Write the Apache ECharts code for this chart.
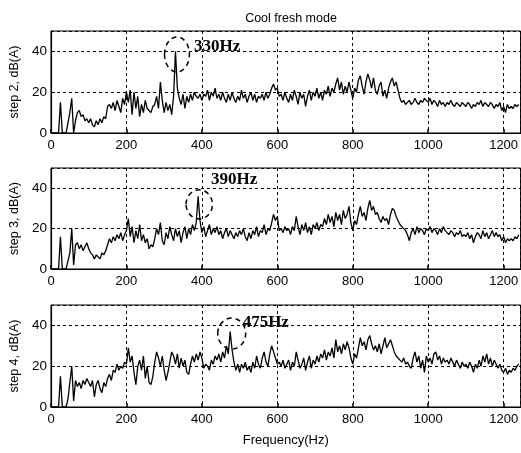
<!DOCTYPE html>
<html>
<head>
<meta charset="utf-8">
<script src="https://cdn.jsdelivr.net/npm/echarts@6/dist/echarts.min.js"></script>
<style>html,body{margin:0;padding:0;background:#fff;}#c{width:521px;height:453px;}</style>
</head>
<body>
<div id="c"></div>
<script>
// Frequency step of the sampled spectrum (Hz); values below are at 0,5,10,...,1240 Hz
const FREQ_STEP = 5;
const X_TICKS = [0, 200, 400, 600, 800, 1000, 1200];
const Y_TICKS = [0, 20, 40];
const PANEL_NAMES = ['step 2, dB(A)', 'step 3, dB(A)', 'step 4, dB(A)'];

const STEP2 = [
  0,0,0,0,0,15,0,0,0,0,10,17,0,6,10,11,8,9,6,7,
  5,7,4,3,6,4,7,5,8,7,13,14,12,15,11,16,13,10,17,14,
  20,15,21,9,20,12,18,8,14,10,16,12,11,10,13,14,18,12,25,16,
  10,15,11,14,9,18,40,22,17,14,19,12,18,15,19,16,20,18,17,19,
  16,19,18,21,16,20,18,22,17,19,16,20,17,15,19,16,20,17,15,18,
  16,21,17,19,15,18,20,16,19,15,18,17,19,16,20,17,19,22,24,21,
  22,18,19,16,20,17,15,19,16,21,18,14,20,17,19,13,18,21,16,20,
  18,22,17,20,16,21,19,23,18,22,20,24,27,21,25,19,23,20,25,21,
  17,22,20,26,28,23,19,25,29,26,22,27,21,19,23,25,18,21,17,22,
  25,27,23,25,21,17,15,16,14,15,16,14,15,17,15,14,16,15,17,16,
  15,17,14,16,15,13,16,14,15,13,15,14,16,14,13,15,14,13,15,14,
  13,15,14,12,14,13,15,14,16,13,15,14,13,15,14,12,14,13,15,11,
  13,10,14,12,13,12,14,13,14
];
const STEP3 = [
  0,0,0,0,0,16,0,0,0,0,8,20,2,12,13,10,12,9,11,13,
  10,8,7,5,7,6,5,8,7,9,12,15,13,16,14,17,15,18,14,17,
  19,25,16,21,13,19,15,22,14,17,13,15,10,12,11,15,20,17,23,14,
  12,18,15,21,17,14,20,16,19,13,18,21,15,20,17,22,19,23,36,24,
  18,21,16,19,22,17,20,18,21,17,19,15,18,20,16,19,17,15,18,16,
  19,17,20,16,14,18,15,19,17,21,16,19,18,22,17,20,19,23,27,24,
  26,19,20,18,21,19,20,17,21,19,26,21,17,22,19,23,18,21,17,22,
  20,23,19,22,21,25,22,27,23,26,21,28,24,27,22,29,25,27,31,23,
  19,24,22,27,31,26,28,24,30,34,29,31,27,28,25,23,26,24,25,22,
  27,30,29,26,24,22,21,20,19,17,14,18,20,17,21,18,20,19,17,20,
  19,21,18,20,19,17,20,18,21,19,18,17,19,18,16,18,17,19,16,17,
  16,18,15,17,13,16,18,17,15,19,16,18,15,17,19,16,18,16,17,14,
  16,13,15,14,15,14,16,15,17
];
const STEP4 = [
  0,0,0,0,0,15,0,0,0,4,12,20,3,13,10,12,9,13,11,14,
  12,10,13,5,11,13,9,7,12,10,14,16,13,18,17,21,18,20,19,22,
  21,29,22,25,17,11,20,23,18,25,14,20,12,11,15,22,27,24,20,25,
  18,13,17,22,27,25,21,26,19,24,20,23,17,16,21,25,22,26,23,27,
  24,19,21,20,18,23,21,25,23,26,22,27,24,30,26,37,28,22,18,21,
  17,21,19,22,18,20,17,22,19,25,21,19,24,27,22,20,26,30,27,24,
  21,22,20,23,19,21,23,18,22,20,27,23,19,21,24,18,22,25,19,23,
  21,25,22,26,24,28,23,27,25,29,24,33,27,30,26,31,28,32,29,24,
  21,26,24,29,34,30,32,28,33,35,31,28,30,27,31,26,30,34,29,31,
  33,30,27,25,24,23,22,24,21,22,20,19,24,27,22,25,19,23,17,25,
  22,24,21,26,27,23,25,21,24,22,23,21,24,22,20,23,21,19,22,20,
  21,19,22,20,17,21,19,23,20,25,22,26,21,24,20,23,21,19,21,18,
  17,19,16,18,17,19,18,20,21
];
// Annotated peaks: label, ellipse centre (Hz, dB), ellipse half-size (Hz, dB), label anchor (Hz, dB)
const PEAK_LABELS = ['330Hz', '390Hz', '475Hz'];
const ELLIPSE_CENTER = [[334, 38.5], [393, 32], [479, 36]];
const ELLIPSE_HALF = [[33, 8.6], [35, 7.2], [37, 7.6]];
const LABEL_ANCHOR = [[379, 42.4], [424, 44.3], [508, 41.5]];

const SERIES = [STEP2, STEP3, STEP4];

const chart = echarts.init(document.getElementById('c'), null, {renderer: 'canvas'});
const FONT = '"Liberation Sans", Arial, sans-serif';
const gridsPos = [
  {left: 49, top: 31, width: 473, height: 102},
  {left: 48, top: 168, width: 474, height: 101},
  {left: 47, top: 305, width: 475, height: 102}
];
const grids = gridsPos.map(p => Object.assign({show: true, borderColor: '#000', borderWidth: 1, backgroundColor: 'transparent'}, p));
const xAxes = gridsPos.map((p, i) => ({
  type: 'value', gridIndex: i, min: 0, max: 1245, interval: 200,
  name: i === 2 ? 'Frequency(Hz)' : '', nameLocation: 'middle', nameGap: 27,
  nameTextStyle: {color: '#000', fontSize: 13, fontFamily: FONT},
  axisLine: {show: true, lineStyle: {color: '#000', width: 1.2}},
  axisTick: {show: true, inside: true, length: 4, lineStyle: {color: '#000', width: 1.5}},
  axisLabel: {color: '#000', fontSize: 13, fontFamily: FONT, margin: 6, showMaxLabel: false, showMinLabel: true,
    formatter: v => X_TICKS.indexOf(v) >= 0 ? String(v) : ''},
  splitLine: {show: true, lineStyle: {color: '#000', type: [3, 3], width: 1}}
}));
const yAxes = gridsPos.map((p, i) => ({
  type: 'value', gridIndex: i, min: 0, max: 50, interval: 20,
  name: PANEL_NAMES[i], nameLocation: 'middle', nameGap: 30, nameRotate: 90,
  nameTextStyle: {color: '#000', fontSize: 12.5, fontFamily: FONT},
  axisLine: {show: true, lineStyle: {color: '#000', width: 1.2}},
  axisTick: {show: true, inside: true, length: 4, lineStyle: {color: '#000'}},
  axisLabel: {color: '#000', fontSize: 13.5, fontFamily: FONT, margin: 4, showMaxLabel: false,
    formatter: v => Y_TICKS.indexOf(v) >= 0 ? String(v) : ''},
  splitLine: {show: true, lineStyle: {color: '#000', type: [3, 3], width: 1}}
}));
const series = SERIES.map((vals, i) => ({
  type: 'line', xAxisIndex: i, yAxisIndex: i, showSymbol: false, symbol: 'none',
  lineStyle: {color: '#000', width: 1.3}, animation: false,
  data: vals.map((v, k) => [k * FREQ_STEP, v])
}));

chart.setOption({
  animation: false,
  backgroundColor: '#fff',
  title: {text: 'Cool fresh mode', left: 286, top: 7, textAlign: 'center',
    textStyle: {color: '#000', fontSize: 12.5, fontWeight: 'normal', fontFamily: FONT}},
  grid: grids, xAxis: xAxes, yAxis: yAxes, series: series
});

const graphics = [];
for (let i = 0; i < 3; i++) {
  const c = chart.convertToPixel({gridIndex: i}, ELLIPSE_CENTER[i]);
  const e = chart.convertToPixel({gridIndex: i}, [ELLIPSE_CENTER[i][0] + ELLIPSE_HALF[i][0], ELLIPSE_CENTER[i][1] + ELLIPSE_HALF[i][1]]);
  graphics.push({type: 'ellipse', shape: {cx: c[0], cy: c[1], rx: Math.abs(e[0] - c[0]), ry: Math.abs(e[1] - c[1])},
    style: {fill: 'none', stroke: '#000', lineWidth: 1.5, lineDash: [5, 4]}, z: 100});
  const a = chart.convertToPixel({gridIndex: i}, LABEL_ANCHOR[i]);
  graphics.push({type: 'text', x: a[0], y: a[1], z: 101,
    style: {text: PEAK_LABELS[i], fill: '#000', font: 'bold 17px "Liberation Serif", "Times New Roman", serif',
      align: 'left', verticalAlign: 'middle', textAlign: 'left', textVerticalAlign: 'middle'}});
}
chart.setOption({graphic: graphics});
</script>
</body>
</html>
